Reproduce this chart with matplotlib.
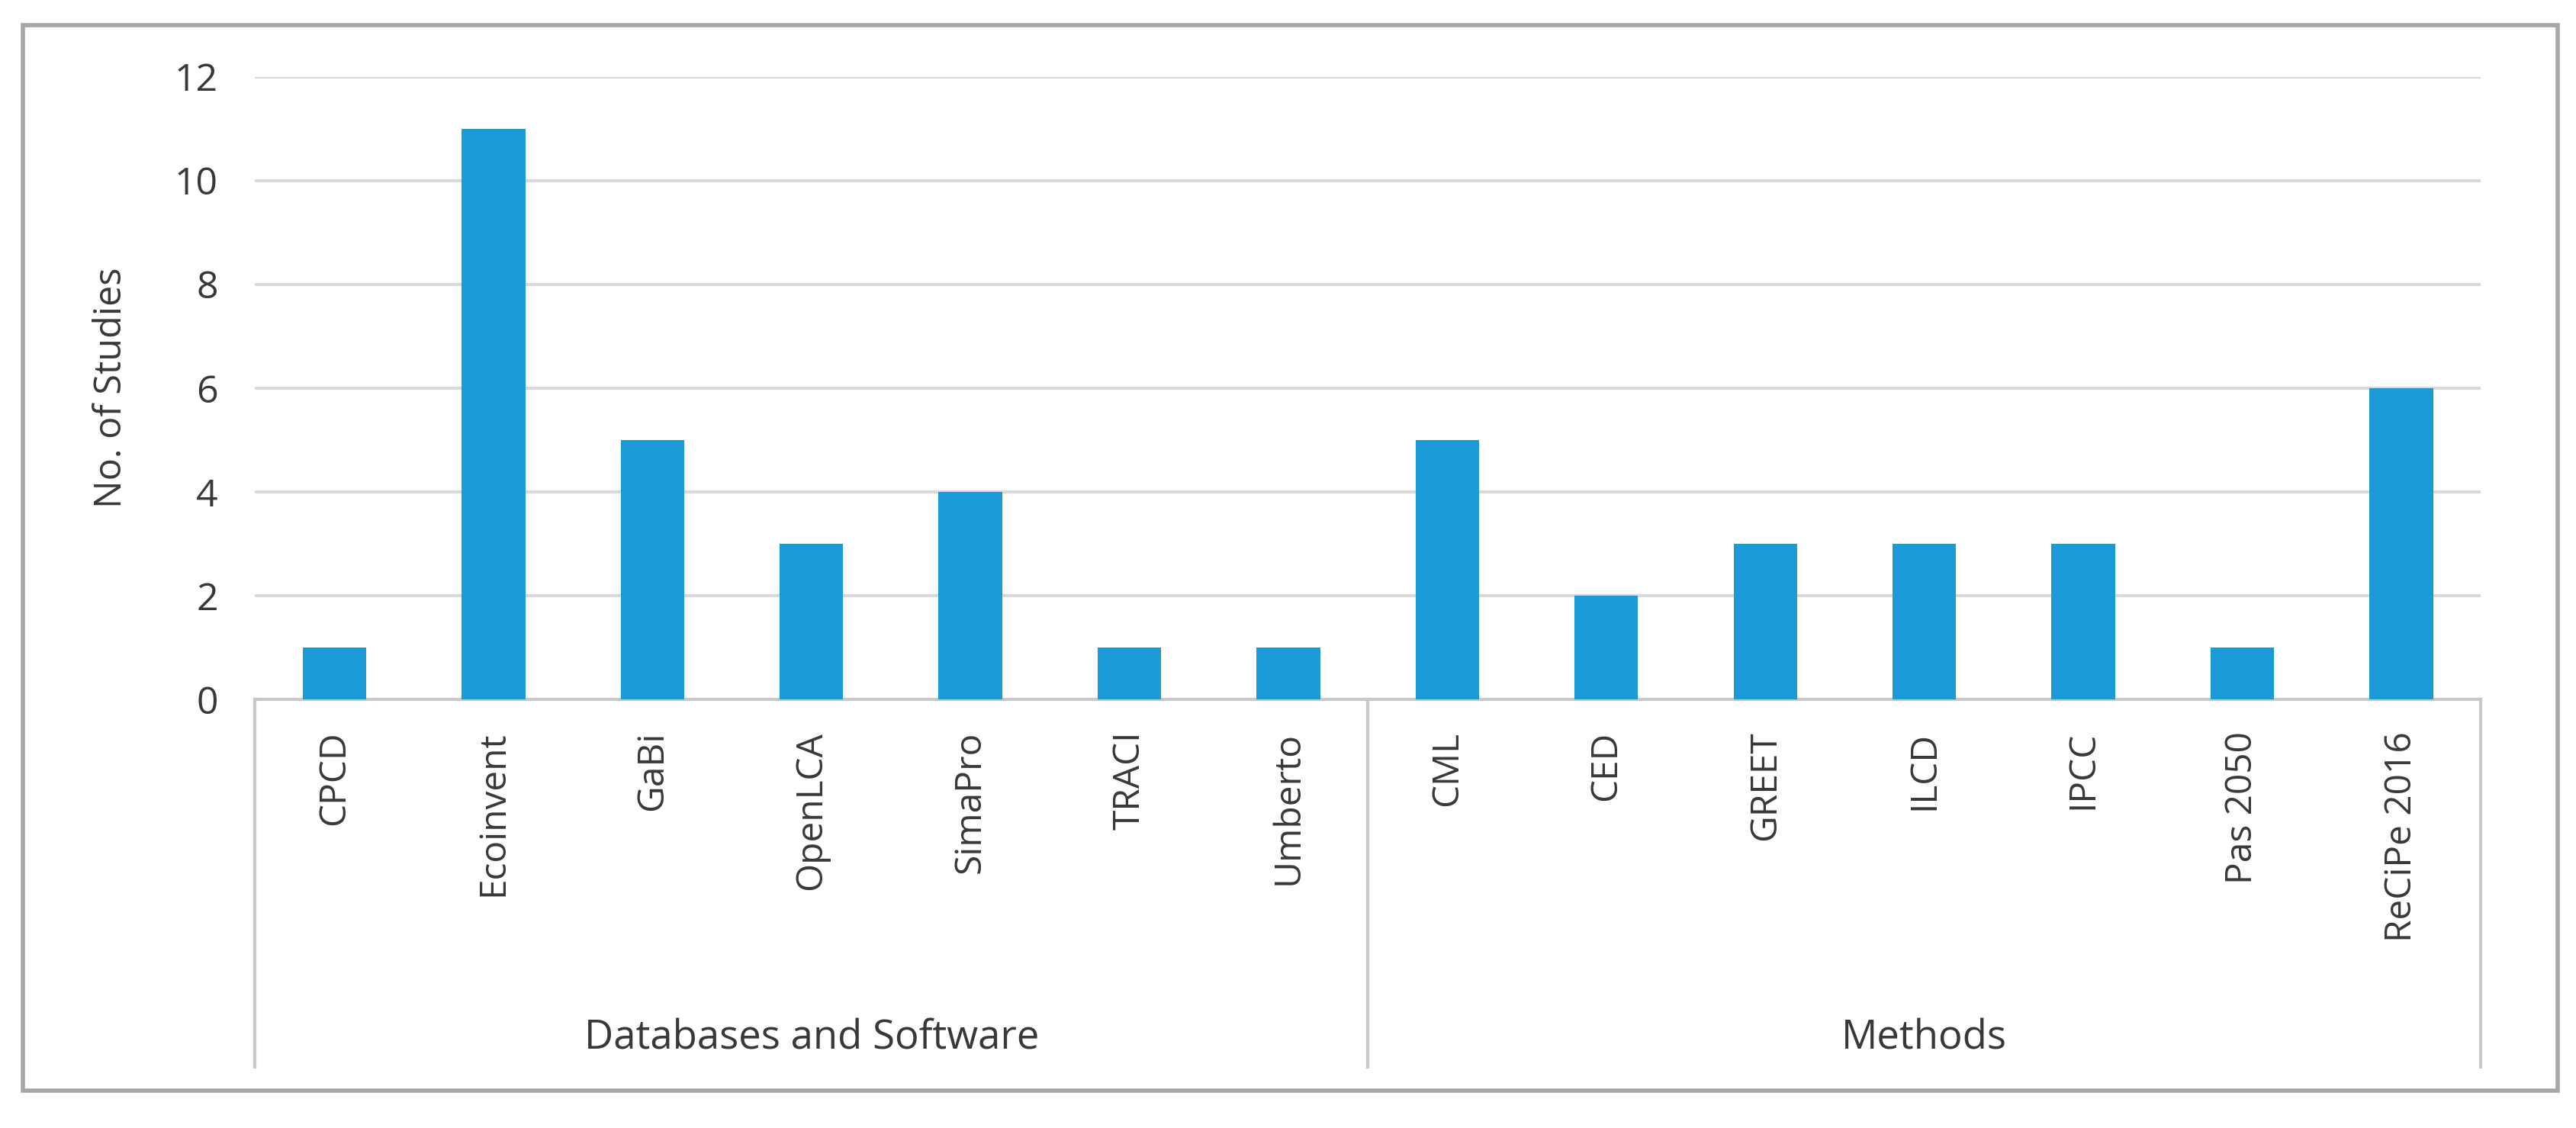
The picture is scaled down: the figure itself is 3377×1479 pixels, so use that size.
import numpy as np
import matplotlib
matplotlib.use('Agg')
import matplotlib.pyplot as plt
import matplotlib.transforms as mtransforms
from matplotlib.patches import Rectangle

# data
db_software = ['CPCD', 'Ecoinvent', 'GaBi', 'OpenLCA', 'SimaPro', 'TRACI', 'Umberto']
db_counts = [1, 11, 5, 3, 4, 1, 1]
methods = ['CML', 'CED', 'GREET', 'ILCD', 'IPCC', 'Pas 2050', 'ReCiPe 2016']
method_counts = [5, 2, 3, 3, 3, 1, 6]
groups = ['Databases and Software', 'Methods']
y_ticks = [0, 2, 4, 6, 8, 10, 12]

BAR_COLOR = '#1A9AD7'
GRID_COLOR = '#D9D9D9'
SEP_COLOR = '#C8C8C8'
TEXT_COLOR = '#383838'
FONT = 'Open Sans'

labels = db_software + methods
counts = db_counts + method_counts
x = np.arange(len(labels))

fig = plt.figure(figsize=(33.77, 14.79), dpi=100)
ax = fig.add_axes([0.099, 0.380, 0.864, 0.552])

ax.bar(x, counts, width=0.4, color=BAR_COLOR, zorder=3)
ax.set_xlim(-0.5, len(labels) - 0.5)
ax.set_ylim(0, 12)
ax.set_yticks(y_ticks)
ax.yaxis.grid(True, color=GRID_COLOR, linewidth=3, zorder=0)
ax.tick_params(axis='y', length=0, pad=35, labelsize=36, labelcolor=TEXT_COLOR)
for t in ax.get_yticklabels():
    t.set_fontfamily(FONT)

ax.set_xticks(x)
ax.set_xticklabels(labels, rotation=90, fontsize=34.5, color=TEXT_COLOR, family=FONT)
ax.tick_params(axis='x', length=0, pad=30)

for s in ['top', 'right', 'left']:
    ax.spines[s].set_visible(False)
ax.spines['bottom'].set_color(SEP_COLOR)
ax.spines['bottom'].set_linewidth(3)

ax.set_ylabel('No. of Studies', fontsize=35, color=TEXT_COLOR, family=FONT)
ax.yaxis.set_label_coords(-0.056, 0.5)

# category group separators and labels below the axis
trans = mtransforms.blended_transform_factory(ax.transData, fig.transFigure)
n_db = len(db_software)
for xs in [-0.5, n_db - 0.5, len(labels) - 0.5]:
    ax.plot([xs, xs], [0.380, 0.054], transform=trans, color=SEP_COLOR,
            linewidth=3, clip_on=False)
centers = [(n_db - 1) / 2, n_db + (len(methods) - 1) / 2]
for g, c in zip(groups, centers):
    ax.text(c, 0.079, g, transform=trans, ha='center', va='center',
            fontsize=38, color=TEXT_COLOR, family=FONT)

# outer chart border
fig.patches.append(Rectangle((0.009, 0.033), 0.984, 0.945, transform=fig.transFigure,
                             fill=False, edgecolor='#A6A6A6', linewidth=4))

fig.savefig('out.png', dpi=100, facecolor='white')
